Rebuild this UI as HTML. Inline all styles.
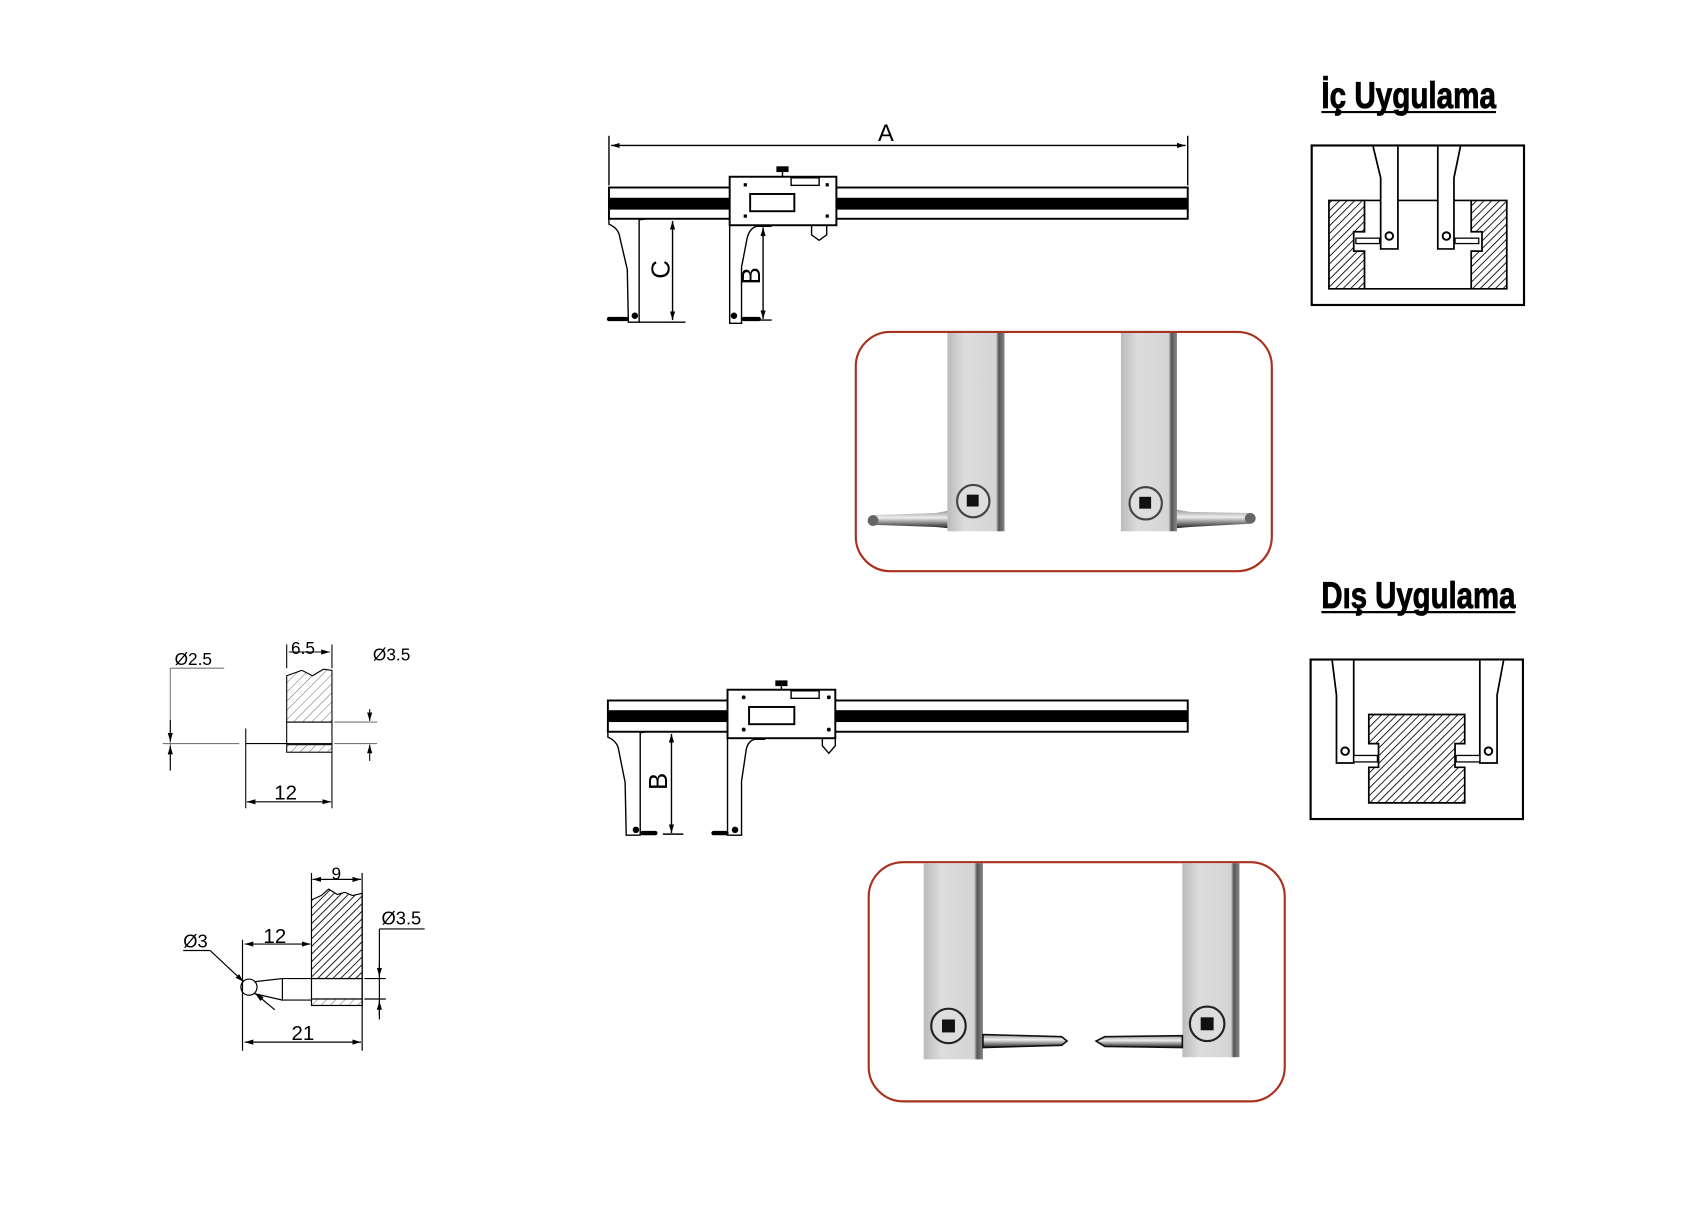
<!DOCTYPE html>
<html><head><meta charset="utf-8"><style>
html,body{margin:0;padding:0;background:#fff;}
svg{display:block;}
text{font-family:"Liberation Sans",sans-serif;}
.t{font-family:"Liberation Sans Narrow","Liberation Sans",sans-serif;font-weight:bold;}
</style></head><body>
<svg width="1690" height="1207" viewBox="0 0 1568 1120" preserveAspectRatio="none" xmlns="http://www.w3.org/2000/svg">
<defs>
<pattern id="h" width="5" height="5" patternUnits="userSpaceOnUse" patternTransform="rotate(45)">
<rect width="5" height="5" fill="#fff"/><line x1="0" y1="0" x2="0" y2="5" stroke="#000" stroke-width="1.6"/></pattern>
<pattern id="hl" width="6" height="6" patternUnits="userSpaceOnUse" patternTransform="rotate(45)">
<rect width="6" height="6" fill="#fff"/><line x1="0" y1="0" x2="0" y2="6" stroke="#555" stroke-width="0.8"/></pattern>
<linearGradient id="bar" x1="0" x2="1"><stop offset="0" stop-color="#bbb"/><stop offset="0.3" stop-color="#ddd"/><stop offset="0.85" stop-color="#d4d4d4"/><stop offset="0.9" stop-color="#555"/><stop offset="1" stop-color="#888"/></linearGradient>
<linearGradient id="pr" x1="0" y1="0" x2="0" y2="1"><stop offset="0" stop-color="#999"/><stop offset="0.4" stop-color="#eee"/><stop offset="1" stop-color="#222"/></linearGradient>
<marker id="ar" viewBox="0 0 10 10" refX="10" refY="5" markerWidth="8" markerHeight="8" orient="auto-start-reverse" markerUnits="userSpaceOnUse"><path d="M0,2 L10,5 L0,8z" fill="#000"/></marker>
</defs>

<!-- ===== Top caliper ===== -->
<g stroke="#000" fill="none" stroke-width="1.3">
<line x1="565" y1="126" x2="565" y2="172"/><line x1="1102" y1="126" x2="1102" y2="172"/>
<line x1="567" y1="135" x2="1100" y2="135" marker-start="url(#ar)" marker-end="url(#ar)"/>
<rect x="565" y="174" width="537" height="29" fill="#fff" stroke-width="1.8"/>
<rect x="565" y="183.5" width="537" height="11" fill="#000" stroke="none"/>
<rect x="677" y="164" width="99" height="45" fill="#fff" stroke-width="1.8"/>
<rect x="696" y="180" width="41" height="16" stroke-width="1.8"/>
<rect x="734" y="165" width="26" height="7"/>
<rect x="721" y="155" width="10" height="4" fill="#000"/><line x1="726" y1="159" x2="726" y2="164"/>
<path d="M753,209 L753,218 L760,223 L767,218 L767,209"/>
<path d="M565,203 L565,208 Q574,212 575,220 L582,250 L583,299 L593,299 L593,204 L600,203"/>
<path d="M677,209 L677,300 L688,300 L688,248 L693,222 Q695,212 702,210 L716,210"/>
<line x1="624" y1="205" x2="624" y2="297" marker-start="url(#ar)" marker-end="url(#ar)"/>
<line x1="600" y1="203" x2="634" y2="203"/><line x1="593" y1="299" x2="636" y2="299"/>
<line x1="708" y1="211" x2="708" y2="296" marker-start="url(#ar)" marker-end="url(#ar)"/>
<line x1="700" y1="297" x2="716" y2="297"/>
</g>
<g fill="#000"><circle cx="589" cy="293" r="3"/><circle cx="681" cy="293" r="3"/>
<rect x="563" y="294" width="20" height="4" rx="2"/><rect x="688" y="294" width="18" height="4" rx="2"/>
<rect x="690" y="170" width="3" height="3"/><rect x="766" y="170" width="3" height="3"/><rect x="690" y="199" width="3" height="3"/><rect x="766" y="199" width="3" height="3"/></g>
<text x="822" y="131" font-size="22" text-anchor="middle">A</text>
<text transform="translate(621,250) rotate(-90)" font-size="24" text-anchor="middle">C</text>
<text transform="translate(705,256) rotate(-90)" font-size="24" text-anchor="middle">B</text>

<!-- ===== Bottom caliper ===== -->
<g stroke="#000" fill="none" stroke-width="1.3">
<rect x="564" y="650" width="538" height="29" fill="#fff" stroke-width="1.8"/>
<rect x="564" y="659" width="538" height="11" fill="#000" stroke="none"/>
<rect x="675" y="640" width="100" height="45" fill="#fff" stroke-width="1.8"/>
<rect x="695" y="656" width="42" height="16" stroke-width="1.8"/>
<rect x="734" y="641" width="26" height="7"/>
<rect x="720" y="632" width="10" height="4" fill="#000"/><line x1="725" y1="636" x2="725" y2="640"/>
<path d="M763,685 L763,692 L769,699 L775,692 L775,685"/>
<path d="M564,679 L564,684 Q573,688 574,696 L580,726 L581,775 L594,775 L594,680 L600,679"/>
<path d="M675,685 L675,775 L688,775 L688,725 L692,698 Q693,688 700,686 L710,686"/>
<line x1="623" y1="681" x2="623" y2="773" marker-start="url(#ar)" marker-end="url(#ar)"/>
<line x1="600" y1="679" x2="640" y2="679"/><line x1="615" y1="774" x2="634" y2="774"/>
</g>
<g fill="#000"><circle cx="590" cy="770" r="3"/><circle cx="682" cy="770" r="3"/>
<rect x="594" y="771" width="16" height="4" rx="2"/><rect x="660" y="771" width="16" height="4" rx="2"/>
<circle cx="690" cy="647" r="1.8"/><circle cx="769" cy="647" r="1.8"/><circle cx="690" cy="677" r="1.8"/><circle cx="769" cy="677" r="1.8"/></g>
<text transform="translate(619,725) rotate(-90)" font-size="24" text-anchor="middle">B</text>

<!-- ===== Photo insets ===== -->
<rect x="794" y="308" width="386" height="222" rx="32" fill="#fff" stroke="#a8321f" stroke-width="2"/>
<rect x="879" y="309" width="53" height="184" fill="url(#bar)"/>
<rect x="1040" y="309" width="52" height="184" fill="url(#bar)"/>
<g stroke="#444" stroke-width="2" fill="#ddd"><circle cx="903" cy="465" r="15"/><circle cx="1063" cy="467" r="15"/></g>
<rect x="897" y="459" width="11" height="11" fill="#111"/><rect x="1057" y="461" width="11" height="11" fill="#111"/>
<path d="M810,478 L868,476 L879,474 L879,490 L868,489 L810,487z" fill="url(#pr)"/><circle cx="810" cy="483" r="5" fill="#666"/>
<path d="M1092,473 L1104,475 L1160,476 L1160,486 L1104,489 L1092,490z" fill="url(#pr)"/><circle cx="1160" cy="481" r="5" fill="#666"/>

<rect x="806" y="800" width="386" height="222" rx="32" fill="#fff" stroke="#a8321f" stroke-width="2"/>
<rect x="857" y="801" width="55" height="182" fill="url(#bar)"/>
<rect x="1097" y="801" width="53" height="180" fill="url(#bar)"/>
<g stroke="#222" stroke-width="2" fill="#ddd"><circle cx="880" cy="952" r="16"/><circle cx="1120" cy="950" r="16"/></g>
<rect x="874" y="946" width="12" height="12" fill="#111"/><rect x="1114" y="944" width="12" height="12" fill="#111"/>
<path d="M912,960 L985,962 L990,966 L985,970 L912,972z" fill="url(#pr)" stroke="#111" stroke-width="1.5"/>
<path d="M1097,961 L1025,962 L1017,966 L1025,971 L1097,972z" fill="url(#pr)" stroke="#111" stroke-width="1.5"/>

<!-- ===== Titles ===== -->
<text x="1226" y="100" class="t" font-size="34" textLength="162" lengthAdjust="spacingAndGlyphs" stroke="#000" stroke-width="0.8">İç Uygulama</text>
<line x1="1226" y1="104" x2="1388" y2="104" stroke="#000" stroke-width="2"/>
<text x="1226" y="564" class="t" font-size="34" textLength="180" lengthAdjust="spacingAndGlyphs" stroke="#000" stroke-width="0.8">Dış Uygulama</text>
<line x1="1226" y1="568" x2="1406" y2="568" stroke="#000" stroke-width="2"/>

<!-- ===== İç box ===== -->
<g stroke="#000" stroke-width="1.6" fill="none">
<rect x="1217" y="135" width="197" height="148" stroke-width="2"/>
<path d="M1233,186 L1266,186 L1266,215 L1256,215 L1256,233 L1266,233 L1266,268 L1233,268z" fill="url(#h)"/>
<path d="M1398,186 L1365,186 L1365,215 L1375,215 L1375,233 L1365,233 L1365,268 L1398,268z" fill="url(#h)"/>
<line x1="1266" y1="186" x2="1365" y2="186"/><line x1="1266" y1="268" x2="1365" y2="268"/>
<path d="M1274,136 L1281,165 L1281,231 L1297,231 L1297,136" fill="#fff"/>
<path d="M1355,136 L1349,165 L1349,231 L1334,231 L1334,136" fill="#fff"/>
<rect x="1258" y="221" width="22" height="5" fill="#fff" stroke-width="1.2"/>
<rect x="1350" y="221" width="22" height="5" fill="#fff" stroke-width="1.2"/>
</g>
<circle cx="1289" cy="219" r="3.5" fill="#fff" stroke="#000" stroke-width="1.8"/>
<circle cx="1342" cy="219" r="3.5" fill="#fff" stroke="#000" stroke-width="1.8"/>

<!-- ===== Dış box ===== -->
<g stroke="#000" stroke-width="1.6" fill="none">
<rect x="1216" y="612" width="197" height="148" stroke-width="2"/>
<path d="M1270,663 L1359,663 L1359,690 L1350,690 L1350,712 L1359,712 L1359,745 L1270,745 L1270,712 L1279,712 L1279,690 L1270,690z" fill="url(#h)"/>
<path d="M1236,613 L1240,645 L1240,708 L1256,708 L1256,613" fill="#fff"/>
<path d="M1395,613 L1389,645 L1389,708 L1373,708 L1373,613" fill="#fff"/>
<rect x="1256" y="701" width="22" height="6" fill="#fff" stroke-width="1.2"/>
<rect x="1351" y="701" width="22" height="6" fill="#fff" stroke-width="1.2"/>
</g>
<circle cx="1248" cy="697" r="3.5" fill="#fff" stroke="#000" stroke-width="1.8"/>
<circle cx="1381" cy="697" r="3.5" fill="#fff" stroke="#000" stroke-width="1.8"/>

<!-- ===== Left detail 1 ===== -->
<g stroke="#000" stroke-width="1" fill="none">
<path d="M266,627 L280,622 L290,627 L300,621 L308,622 L308,670 L266,670z" fill="url(#hl)"/>
<rect x="266" y="670" width="42" height="20"/>
<rect x="266" y="691" width="42" height="7" fill="url(#hl)"/>
<line x1="266" y1="598" x2="266" y2="620"/><line x1="308" y1="598" x2="308" y2="620"/>
<line x1="268" y1="605" x2="306" y2="605" marker-end="url(#ar)"/>
<line x1="158" y1="620" x2="208" y2="620" stroke="#777"/>
<line x1="158" y1="620" x2="158" y2="715" stroke="#777"/>
<line x1="151" y1="690" x2="222" y2="690" stroke="#777"/>
<path d="M158,668 L158,688" marker-end="url(#ar)"/><path d="M158,715 L158,692" marker-end="url(#ar)"/>
<line x1="228" y1="676" x2="228" y2="750"/><line x1="228" y1="690" x2="266" y2="690"/>
<line x1="308" y1="698" x2="308" y2="750"/>
<line x1="310" y1="670" x2="350" y2="670" stroke="#777"/><line x1="310" y1="690" x2="350" y2="690" stroke="#777"/>
<path d="M343,658 L343,669" marker-end="url(#ar)"/><path d="M343,706 L343,691" marker-end="url(#ar)"/>
<line x1="229" y1="744" x2="307" y2="744" marker-start="url(#ar)" marker-end="url(#ar)"/>
</g>
<text x="162" y="617" font-size="16">Ø2.5</text>
<text x="270" y="607" font-size="16">6.5</text>
<text x="346" y="613" font-size="16">Ø3.5</text>
<text x="265" y="742" font-size="19" text-anchor="middle">12</text>

<!-- ===== Left detail 2 ===== -->
<g stroke="#000" stroke-width="1.1" fill="none">
<path d="M289,835 L298,831 L305,825 L313,830 L320,828 L327,831 L336,829 L336,908 L289,908z" fill="url(#h)"/>
<rect x="289" y="908" width="47" height="19"/>
<rect x="289" y="927" width="47" height="6" fill="url(#hl)"/>
<line x1="289" y1="810" x2="289" y2="835"/><line x1="336" y1="810" x2="336" y2="975"/>
<line x1="290" y1="816" x2="335" y2="816" marker-start="url(#ar)" marker-end="url(#ar)"/>
<line x1="225" y1="872" x2="225" y2="975"/>
<line x1="227" y1="876" x2="288" y2="876" marker-start="url(#ar)" marker-end="url(#ar)"/>
<line x1="227" y1="967" x2="335" y2="967" marker-start="url(#ar)" marker-end="url(#ar)"/>
<circle cx="231" cy="916" r="7.5"/>
<path d="M236,911 L262,908 L262,928 L236,922"/>
<line x1="262" y1="908" x2="289" y2="908"/><line x1="262" y1="928" x2="289" y2="928"/>
<line x1="170" y1="882" x2="195" y2="882"/>
<line x1="195" y1="882" x2="226" y2="911" marker-end="url(#ar)"/>
<line x1="255" y1="937" x2="237" y2="922" marker-end="url(#ar)"/>
<line x1="352" y1="862" x2="394" y2="862"/>
<line x1="352" y1="862" x2="352" y2="946"/>
<line x1="338" y1="908" x2="358" y2="908"/><line x1="338" y1="927" x2="358" y2="927"/>
<path d="M352,894 L352,906" marker-end="url(#ar)"/><path d="M352,942 L352,929" marker-end="url(#ar)"/>
</g>
<text x="312" y="816" font-size="16" text-anchor="middle">9</text>
<text x="354" y="858" font-size="17">Ø3.5</text>
<text x="255" y="875" font-size="19" text-anchor="middle">12</text>
<text x="170" y="879" font-size="17">Ø3</text>
<text x="281" y="965" font-size="19" text-anchor="middle">21</text>
</svg>
</body></html>
